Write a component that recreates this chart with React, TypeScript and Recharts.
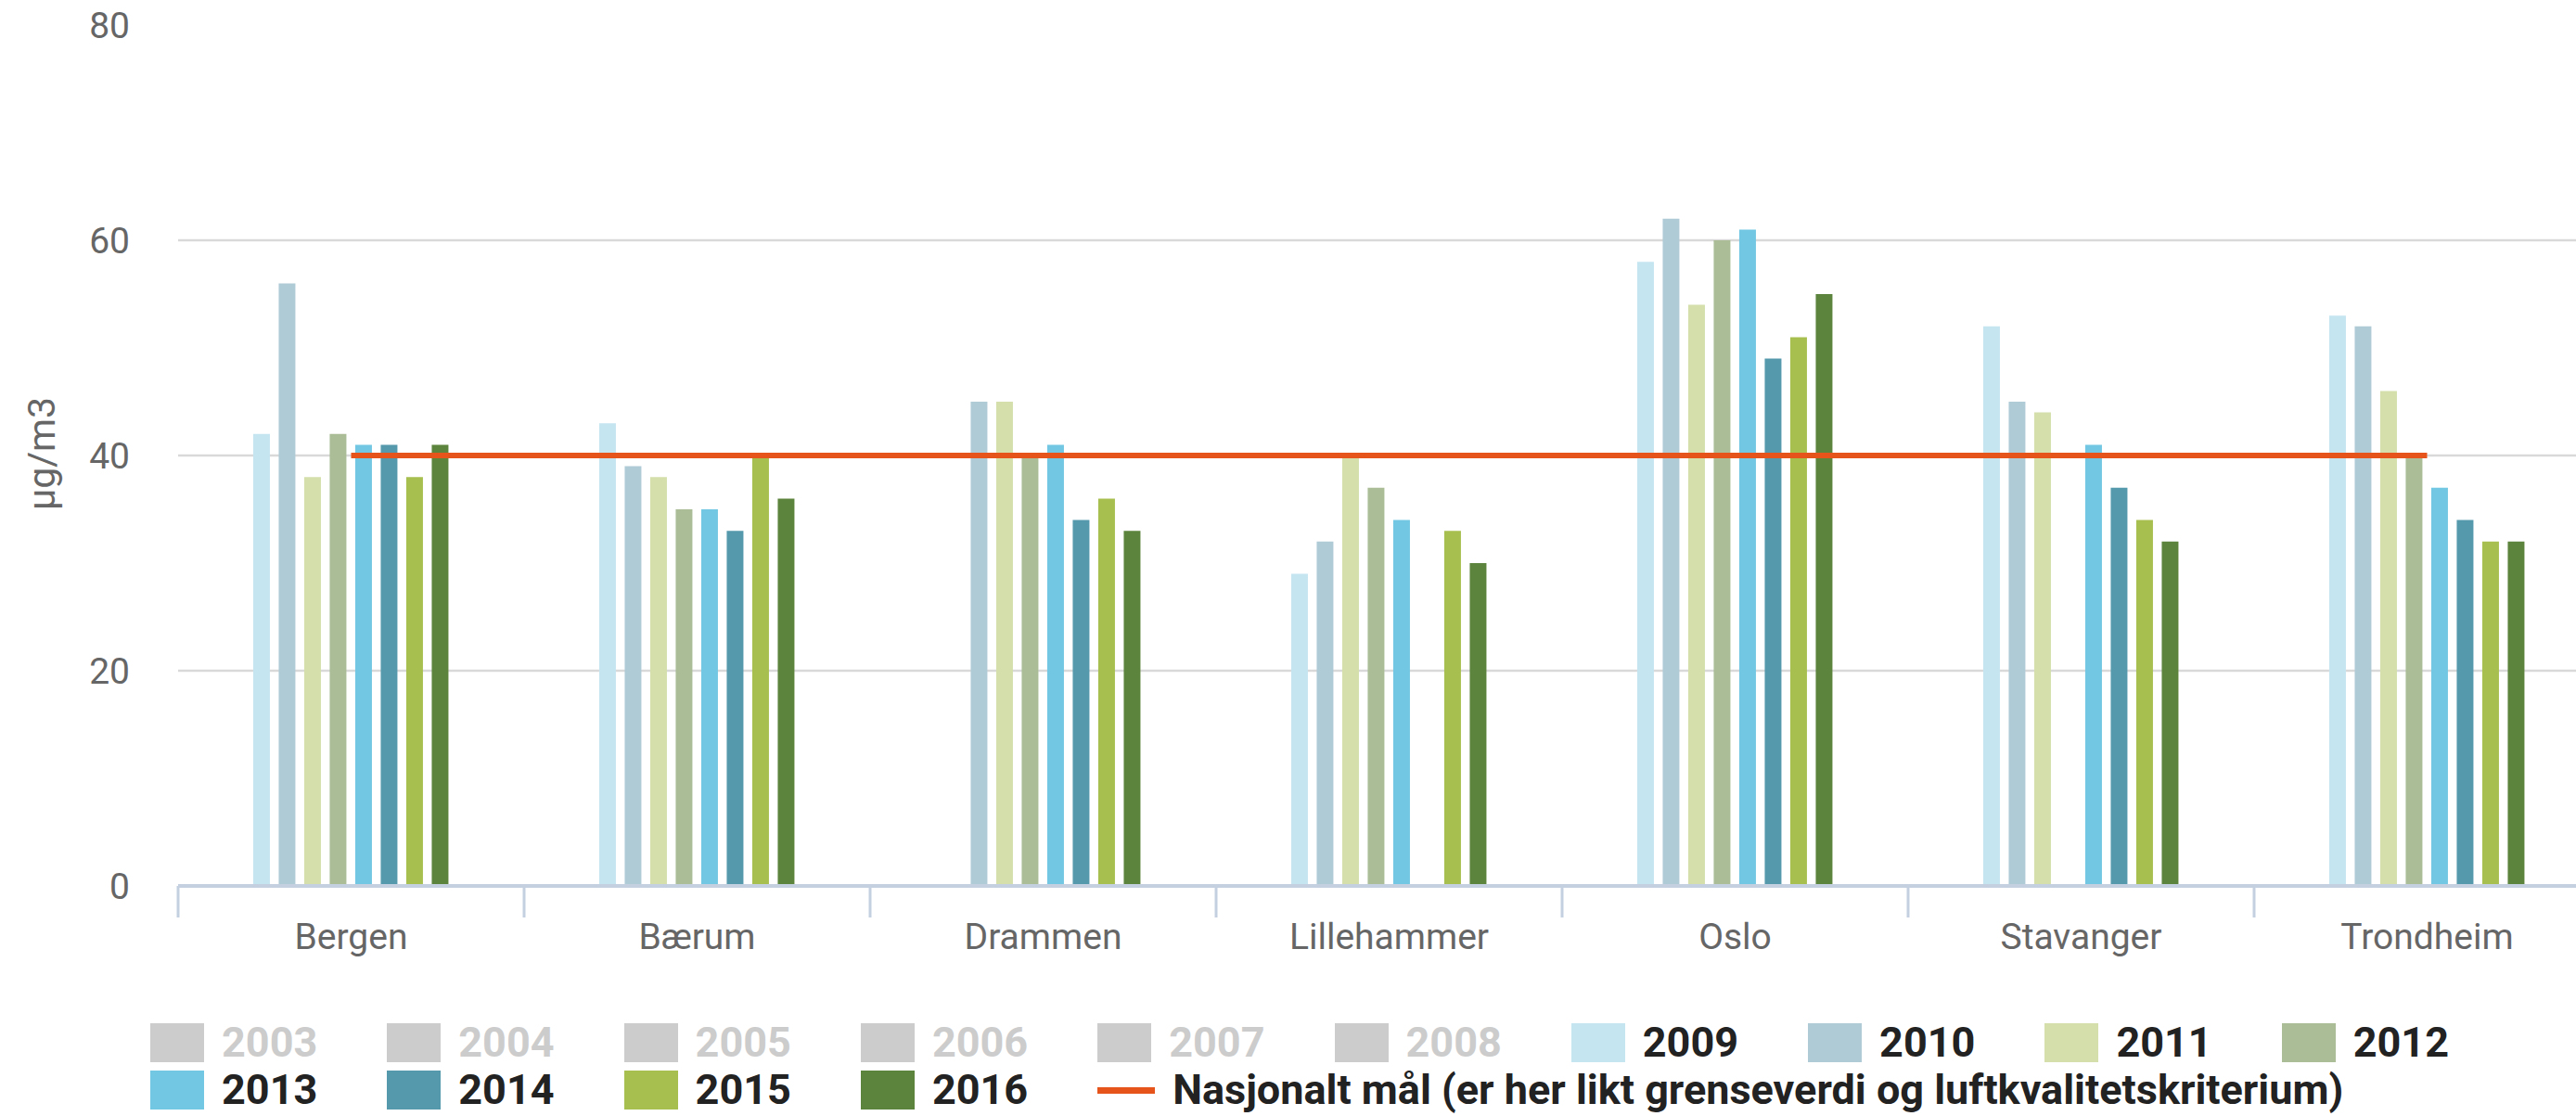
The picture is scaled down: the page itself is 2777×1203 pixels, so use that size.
import React from 'react';
import { ComposedChart, Bar, Line, XAxis, YAxis, CartesianGrid } from 'recharts';

const cities = ['Bergen', 'Bærum', 'Drammen', 'Lillehammer', 'Oslo', 'Stavanger', 'Trondheim'];

const v2009 = [42, 43, null, 29, 58, 52, 53];
const v2010 = [56, 39, 45, 32, 62, 45, 52];
const v2011 = [38, 38, 45, 40, 54, 44, 46];
const v2012 = [42, 35, 40, 37, 60, null, 40];
const v2013 = [41, 35, 41, 34, 61, 41, 37];
const v2014 = [41, 33, 34, null, 49, 37, 34];
const v2015 = [38, 40, 36, 33, 51, 34, 32];
const v2016 = [41, 36, 33, 30, 55, 32, 32];
const target = [40, 40, 40, 40, 40, 40, 40];

const hiddenYears = ['2003', '2004', '2005', '2006', '2007', '2008'];
const shownYears = ['2009', '2010', '2011', '2012', '2013', '2014', '2015', '2016'];
const yearColors = ['#c5e5f1', '#afcbd6', '#d4dfab', '#aabd96', '#72c7e2', '#5599ad', '#a7bf4f', '#5c843d'];
const yearValues = [v2009, v2010, v2011, v2012, v2013, v2014, v2015, v2016];
const targetLabel = 'Nasjonalt mål (er her likt grenseverdi og luftkvalitetskriterium)';
const yTicks = [0, 20, 40, 60, 80];
const gridValues = [20, 40, 60];

const data = cities.map((city, i) => {
  const row: any = { city, target: target[i] };
  shownYears.forEach((y, k) => {
    row['y' + y] = yearValues[k][i];
  });
  return row;
});

const CHART_W = 2810;
const CHART_H = 1060;
const MARGIN = { top: 27, right: 7, bottom: 0, left: 0 };
const Y_W = 192;
const BAND = (CHART_W - MARGIN.left - MARGIN.right - Y_W) / cities.length;
const AXIS_COLOR = '#c4d0e0';
const TEXT = '#666666';
const LINE_COLOR = '#e6531b';

const XTick = (props: any) => {
  const { x, y, payload, index } = props;
  const half = BAND / 2;
  return (
    <g>
      <line x1={x - half} x2={x - half} y1={y} y2={y + 34} stroke={AXIS_COLOR} strokeWidth={3} />
      {index === cities.length - 1 ? (
        <line x1={x + half} x2={x + half} y1={y} y2={y + 34} stroke={AXIS_COLOR} strokeWidth={3} />
      ) : null}
      <text x={x} y={y + 68} textAnchor="middle" fill={TEXT} fontSize={39}>
        {payload.value}
      </text>
    </g>
  );
};

const YLabel = (props: any) => {
  const vb = props.viewBox || { y: 27, height: 928 };
  const cx = 45;
  const cy = vb.y + vb.height / 2 - 2;
  return (
    <text
      x={cx}
      y={cy}
      transform={`rotate(-90 ${cx} ${cy})`}
      textAnchor="middle"
      dominantBaseline="central"
      fill={TEXT}
      fontSize={41}
    >
      µg/m3
    </text>
  );
};

const COL0 = 162;
const COL_W = 255.3;
const ROW_Y = [1102, 1153];

const LegendBlock = () => {
  const items: any[] = [];
  hiddenYears.forEach((y) => items.push({ label: y, color: '#cccccc', inactive: true, kind: 'box' }));
  shownYears.forEach((y, k) => items.push({ label: y, color: yearColors[k], inactive: false, kind: 'box' }));
  items.push({ label: targetLabel, color: LINE_COLOR, inactive: false, kind: 'line' });
  return (
    <div>
      {items.map((it, i) => {
        const row = Math.floor(i / 10);
        const col = i % 10;
        return (
          <div
            key={i}
            style={{
              position: 'absolute',
              left: COL0 + col * COL_W,
              top: ROW_Y[row],
              height: 44,
              display: 'flex',
              alignItems: 'center',
              whiteSpace: 'nowrap',
            }}
          >
            {it.kind === 'box' ? (
              <div style={{ width: 58, height: 42, background: it.color, marginRight: 19 }} />
            ) : (
              <div style={{ width: 62, height: 7, background: it.color, marginRight: 19 }} />
            )}
            <span
              style={{
                fontFamily: 'Roboto, sans-serif',
                fontWeight: 700,
                fontSize: 45,
                color: it.inactive ? '#cccccc' : '#222222',
                lineHeight: '44px',
              }}
            >
              {it.label}
            </span>
          </div>
        );
      })}
    </div>
  );
};

export default function App() {
  return (
    <div
      style={{
        position: 'fixed',
        left: 0,
        top: 0,
        width: 2777,
        height: 1203,
        overflow: 'hidden',
        background: '#ffffff',
        fontFamily: 'Roboto, sans-serif',
      }}
    >
      <ComposedChart
        width={CHART_W}
        height={CHART_H}
        data={data}
        margin={MARGIN}
        barCategoryGap="21.7%"
        barGap={9.5}
      >
        <CartesianGrid vertical={false} horizontalValues={gridValues} stroke="#d9d9d9" strokeWidth={2.5} />
        <XAxis
          dataKey="city"
          height={CHART_H - MARGIN.top - MARGIN.bottom - 928}
          interval={0}
          tickLine={false}
          tickSize={0}
          tickMargin={0}
          axisLine={{ stroke: AXIS_COLOR, strokeWidth: 4 }}
          tick={<XTick />}
        />
        <YAxis
          width={Y_W}
          domain={[0, 80]}
          ticks={yTicks}
          interval={0}
          axisLine={false}
          tickLine={false}
          tickSize={0}
          tickMargin={52}
          tick={{ fill: TEXT, fontSize: 39 }}
          label={<YLabel />}
        />
        {shownYears.map((y, k) => (
          <Bar key={y} dataKey={'y' + y} name={y} fill={yearColors[k]} isAnimationActive={false} />
        ))}
        <Line
          dataKey="target"
          name={targetLabel}
          stroke={LINE_COLOR}
          strokeWidth={6}
          dot={false}
          activeDot={false}
          isAnimationActive={false}
        />
      </ComposedChart>
      <LegendBlock />
    </div>
  );
}
